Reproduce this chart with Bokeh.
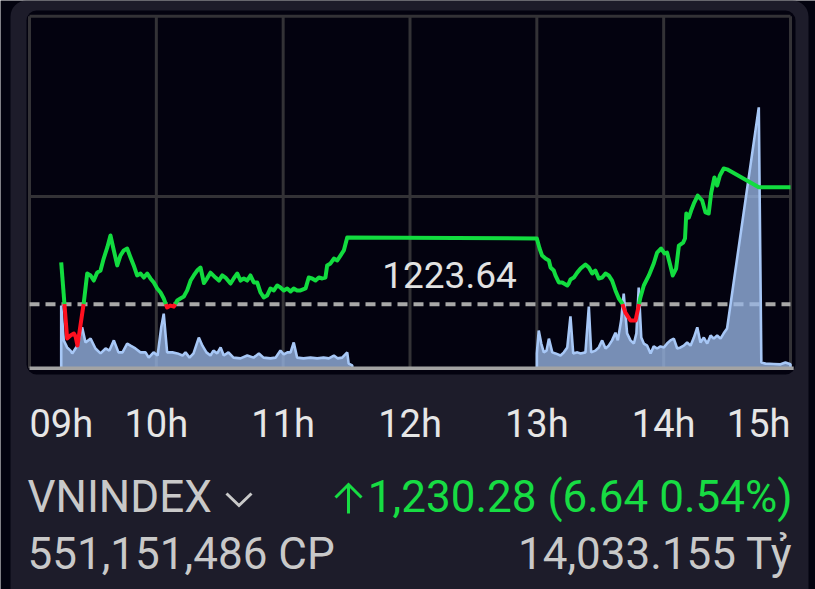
from bokeh.plotting import figure
from bokeh.models import Range1d, Label, BoxAnnotation
from bokeh.embed import file_html
from bokeh.resources import INLINE

# ---------------- data ----------------
REF_PRICE = 1223.64
hour_ticks = [0, 60, 120, 180, 240, 300, 360]          # minutes after 09:00
hour_labels = ["09h", "10h", "11h", "12h", "13h", "14h", "15h"]

# VNINDEX intraday (minutes after 09:00, index value)
price_min = [15, 17.8, 19.4, 21.0, 21.8, 22.7, 25.7, 27.3, 28.9, 30.4, 32.0, 33.6, 35.1,
             36.8, 38.3, 39.9, 41.5, 43.0, 44.6, 46.2, 47.8, 49.3, 50.9, 52.5, 54.1, 55.7,
             57.2, 58.8, 60.4, 62.0, 63.5, 65.1, 66.7, 68.3, 69.9, 71.4, 73.0, 74.6, 76.2,
             77.7, 79.3, 80.9, 82.5, 84.1, 85.6, 88.0, 89.6, 91.2, 92.7, 95.1, 96.6, 98.3,
             99.8, 101.4, 103.0, 104.5, 106.1, 107.7, 109.3, 110.8, 112.4, 114.0, 115.6,
             117.2, 118.7, 120.3, 121.9, 123.5, 125.0, 126.6, 128.2, 130.6, 132.1, 133.7,
             135.3, 136.9, 138.5, 140.0, 140.8, 142.4, 144.0, 145.6, 147.1, 148.7, 150.3,
             240, 241.3, 242.5, 244.1, 245.7, 246.5, 248.0, 248.8, 250.4, 252.0, 252.8,
             254.4, 255.1, 255.9, 257.5, 259.1, 260.7, 263.0, 264.6, 266.2, 267.7, 269.3,
             270.9, 272.5, 274.0, 275.6, 277.2, 278.8, 280.4, 281.9, 284.3, 286.7, 288.2,
             289.0, 290.6, 293.0, 295.3, 296.9, 298.8, 300.4, 301.6, 302.9, 304.3, 305.9,
             307.2, 309.2, 310.1, 310.7, 311.9, 313.0, 314.3, 316.1, 318.2, 319.8, 321.3,
             322.5, 324.0, 325.3, 326.6, 328.4, 330, 345, 360]
price_val = [1226.01, 1221.69, 1221.86, 1221.97, 1221.80, 1221.29, 1223.73, 1225.38, 1225.27,
             1224.98, 1225.43, 1225.55, 1226.23, 1226.86, 1227.54, 1226.69, 1225.84, 1226.40,
             1226.69, 1226.80, 1226.29, 1225.84, 1225.27, 1225.38, 1225.15, 1225.38, 1225.10,
             1224.87, 1224.53, 1224.30, 1223.96, 1223.45, 1223.56, 1223.50, 1223.85, 1223.96,
             1224.07, 1224.42, 1224.98, 1225.27, 1225.55, 1225.72, 1224.84, 1225.12, 1225.43,
             1225.15, 1224.98, 1225.27, 1225.15, 1224.81, 1225.10, 1225.38, 1224.98, 1225.10,
             1224.98, 1225.27, 1224.87, 1224.87, 1224.30, 1224.02, 1224.13, 1224.53, 1224.42,
             1224.70, 1224.59, 1224.42, 1224.53, 1224.36, 1224.53, 1224.42, 1224.42, 1224.53,
             1225.15, 1225.10, 1224.98, 1225.15, 1225.10, 1225.15, 1225.84, 1225.95, 1226.23,
             1226.12, 1226.40, 1226.69, 1227.43,
             1227.37, 1226.80, 1226.40, 1226.23, 1226.12, 1225.72, 1225.55, 1225.27, 1224.87,
             1224.87, 1224.81, 1224.70, 1224.81, 1225.04, 1225.15, 1225.43, 1225.66, 1225.89,
             1225.72, 1225.38, 1225.55, 1225.10, 1225.15, 1225.38, 1225.27, 1224.98, 1224.42,
             1223.96, 1223.68, 1223.16, 1222.71, 1222.71, 1223.56, 1224.02, 1224.70, 1225.27,
             1225.95, 1226.57, 1226.80, 1226.52, 1226.57, 1225.95, 1225.27, 1225.66, 1226.97,
             1227.14, 1227.37, 1228.79, 1228.56, 1228.96, 1229.36, 1229.81, 1229.53, 1228.85,
             1228.79, 1229.98, 1230.84, 1230.38, 1230.95, 1231.35, 1231.30, 1230.28, 1230.28]

# matched volume (relative units), morning and afternoon sessions
vol_am_min = [15, 16.2, 17.8, 19.4, 20.2, 22.6, 24.9, 26.5, 28.9, 31.2, 33.6, 36.0, 37.8,
              39.9, 42.1, 44.0, 46.2, 47.8, 50.1, 52.5, 54.9, 56.4, 58.7, 60.6, 62.3, 63.5,
              65.1, 67.6, 70.0, 72.4, 73.8, 75.7, 77.6, 80.1, 81.8, 83.7, 85.6, 87.0, 88.8,
              90.4, 91.9, 94.1, 96.5, 99.8, 103.0, 106.0, 108.5, 110.7, 114.0, 116.4, 118.7,
              120.3, 122.0, 123.5, 125.0, 126.6, 129.6, 132.9, 136.1, 139.1, 141.6, 144.0,
              145.7, 147.9, 150.3, 151.0, 152.7]
vol_am_val = [17.8, 7.9, 5.9, 5.0, 4.2, 6.4, 11.6, 7.3, 8.4, 5.6, 4.2, 5.6, 5.0, 7.9, 4.5,
              4.5, 7.0, 6.4, 5.6, 4.5, 4.5, 3.0, 4.5, 3.6, 11.6, 15.5, 4.5, 4.5, 4.2, 3.6, 4.5,
              3.0, 4.2, 8.7, 6.4, 4.5, 3.6, 5.0, 4.2, 5.9, 3.6, 4.5, 3.0, 2.8, 3.6, 3.0, 4.2,
              3.0, 2.8, 3.0, 5.0, 3.9, 4.5, 4.5, 7.3, 3.0, 2.8, 3.0, 2.8, 3.0, 2.8, 3.6, 2.8,
              3.0, 4.5, 1.3, 0.8]
vol_pm_min = [240, 240.9, 242.1, 243.3, 244.6, 245.7, 247.3, 248.8, 251.2, 252.8, 254.4,
              255.9, 257.2, 259.2, 260.7, 263.0, 264.6, 265.7, 267.7, 269.3, 270.9, 272.5,
              274.0, 275.6, 277.2, 278.3, 279.9, 281.1, 282.7, 284.3, 285.9, 287.1, 288.2,
              289.4, 290.6, 292.2, 293.8, 295.3, 296.9, 298.5, 300.1, 301.6, 303.2, 304.8,
              306.4, 308.0, 309.5, 311.1, 312.7, 314.3, 315.9, 317.4, 319.0, 320.6, 322.2,
              323.7, 325.3, 326.9, 328.4, 330, 345, 346.2, 348.2, 352, 355.3, 357.6, 360]
vol_pm_val = [4.2, 10.7, 7.0, 4.5, 5.0, 8.4, 4.5, 4.2, 3.6, 4.5, 5.9, 14.7, 4.2, 4.5, 4.2,
              4.5, 17.5, 4.5, 5.0, 5.9, 7.9, 5.6, 6.4, 7.9, 10.1, 7.9, 13.6, 21.2, 9.9, 7.9,
              7.0, 9.9, 22.9, 8.7, 7.0, 6.4, 4.2, 6.2, 5.6, 6.2, 5.9, 7.0, 7.9, 8.4, 5.6, 5.9,
              6.4, 7.3, 6.4, 8.7, 11.6, 7.3, 8.7, 7.0, 9.3, 8.4, 9.3, 8.4, 9.9, 11.3, 74.1,
              1.6, 1.3, 1.2, 1.1, 1.6, 1.1]

index_name = "VNINDEX"
index_change = "1,230.28 (6.64 0.54%)"
total_volume = "551,151,486 CP"
total_value = "14,033.155 T\u1ef7"

# ---------------- layout helpers (pixel -> data) ----------------
W, H = 815, 589
PX_PER_MIN = 761 / 360.0
PX_PER_PT = 17.6
VOL_PX = 3.52
def X(px):   # canvas x pixel -> minutes
    return (px - 29) / PX_PER_MIN
def Y(py):   # canvas y pixel -> index value
    return 1240 - (py - 15.7) / PX_PER_PT
def TY(py, size):  # baseline correction for svg text
    return Y(py - 0.37 * size)

OUTER = "#03030f"
CARD = "#1d1c2a"
FRAME = "#03020f"
GRID = "#333236"
GREEN = "#12dc3f"
TXT_GREEN = "#17dc43"
RED = "#ff1020"
GRAY_TXT = "#c9c9c9"

p = figure(width=W, height=H, output_backend="svg", toolbar_location=None,
           x_axis_location=None, y_axis_location=None,
           x_range=Range1d(X(0), X(W)), y_range=Range1d(Y(H), Y(0)),
           min_border=0, background_fill_color=OUTER, border_fill_color=OUTER,
           outline_line_color=None)
p.grid.visible = False
p.extra_y_ranges = {"vol": Range1d(-(H - 367.7) / VOL_PX, 367.7 / VOL_PX)}

# card and chart panel
p.add_layout(BoxAnnotation(left=X(10), right=X(808), top=Y(0), bottom=Y(H + 40),
                           fill_color=CARD, fill_alpha=1, line_color=None,
                           border_radius=16, level="underlay"))
p.add_layout(BoxAnnotation(left=X(26), right=X(795), top=Y(10), bottom=Y(374),
                           fill_color=FRAME, fill_alpha=1, line_color=None,
                           border_radius=10, level="underlay"))

# grid lines (hour verticals, top and middle horizontals)
t0, t1 = hour_ticks[0], hour_ticks[-1]
p.segment(x0=hour_ticks, y0=[1240] * len(hour_ticks), x1=hour_ticks,
          y1=[1220] * len(hour_ticks), line_color=GRID, line_width=3)
p.segment(x0=[t0, t0], y0=[1240, Y(196)], x1=[t1, t1], y1=[1240, Y(196)],
          line_color=GRID, line_width=3)

# reference dashed line
p.line([t0, t1], [REF_PRICE, REF_PRICE], line_color="#a8a8a8", line_width=4,
       line_dash="10 6")

# volume areas
for tm, vv in ((vol_am_min, vol_am_val), (vol_pm_min, vol_pm_val)):
    xs = [tm[0]] + list(tm) + [tm[-1]]
    ys = [0] + list(vv) + [0]
    p.patch(xs, ys, fill_color="#98b6e4", fill_alpha=0.78, line_color="#a7c7f6",
            line_width=2.6, y_range_name="vol")

# bottom baseline
p.line([t0, t1 + 1.5], [1220, 1220], line_color="#a3a3a3", line_width=3.5)

# price line split into above / below reference
def split(ts, ps, ref):
    above, below = [], []
    cx, cy = [ts[0]], [ps[0]]
    up = ps[0] >= ref
    for i in range(1, len(ts)):
        a0, b0, a1, b1 = ts[i - 1], ps[i - 1], ts[i], ps[i]
        u1 = b1 >= ref
        if u1 != up:
            tc = a0 + (ref - b0) * (a1 - a0) / (b1 - b0)
            cx.append(tc); cy.append(ref)
            (above if up else below).append((cx, cy))
            cx, cy = [tc], [ref]
            up = u1
        cx.append(a1); cy.append(b1)
    (above if up else below).append((cx, cy))
    return above, below

above, below = split(price_min, price_val, REF_PRICE)
p.multi_line([a[0] for a in above], [a[1] for a in above], line_color=GREEN,
             line_width=4, line_join="round")
p.multi_line([b[0] for b in below], [b[1] for b in below], line_color=RED,
             line_width=4, line_join="round")

# reference value label
p.add_layout(Label(x=X(449), y=TY(288.5, 37), text=f"{REF_PRICE:.2f}",
                   text_align="center", text_baseline="alphabetic", text_font="Roboto",
                   text_font_size="37px", text_color="#e2e2e2"))

# hour labels
for t, lab in zip(hour_ticks, hour_labels):
    align = "left" if t == t0 else ("right" if t == t1 else "center")
    p.add_layout(Label(x=t, y=TY(438, 38), text=lab, text_align=align,
                       text_baseline="alphabetic", text_font="Roboto",
                       text_font_size="38px", text_color="#e6e6e6"))

# footer texts
p.add_layout(Label(x=X(27), y=TY(513, 44), text=index_name, text_align="left",
                   text_baseline="alphabetic", text_font="Roboto", text_font_size="44px",
                   text_color=GRAY_TXT))
p.line([X(226), X(238.5), X(251)], [Y(493), Y(505), Y(493)], line_color=GRAY_TXT,
       line_width=3, line_join="miter")
# up arrow
p.line([X(348), X(348)], [Y(513), Y(485)], line_color=TXT_GREEN, line_width=3)
p.line([X(335), X(348), X(361)], [Y(497), Y(484), Y(497)], line_color=TXT_GREEN,
       line_width=3, line_join="miter")
p.add_layout(Label(x=X(792), y=TY(513, 44), text=index_change, text_align="right",
                   text_baseline="alphabetic", text_font="Roboto", text_font_size="44px",
                   text_color=TXT_GREEN))
p.add_layout(Label(x=X(27), y=TY(570, 44), text=total_volume, text_align="left",
                   text_baseline="alphabetic", text_font="Roboto", text_font_size="44px",
                   text_color=GRAY_TXT))
p.add_layout(Label(x=X(792), y=TY(570, 44), text=total_value, text_align="right",
                   text_baseline="alphabetic", text_font="Roboto", text_font_size="44px",
                   text_color=GRAY_TXT))

open("out.html", "w").write(file_html(p, INLINE))
